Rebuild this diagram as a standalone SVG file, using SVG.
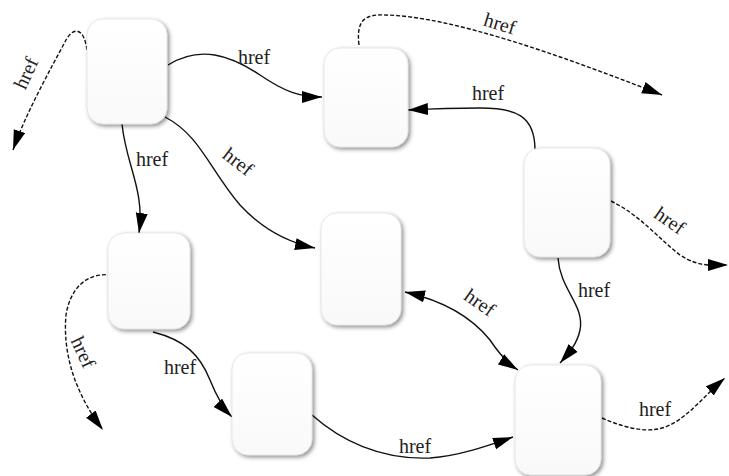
<svg xmlns="http://www.w3.org/2000/svg" width="729" height="476" viewBox="0 0 729 476">
<defs>
<filter id="sh" x="-20%" y="-20%" width="140%" height="140%">
<feDropShadow dx="2" dy="2" stdDeviation="2" flood-color="#000" flood-opacity="0.45"/>
</filter>
<linearGradient id="g" x1="0" y1="0" x2="0" y2="1">
<stop offset="0" stop-color="#ffffff"/>
<stop offset="1" stop-color="#f9f9f9"/>
</linearGradient>
<marker id="ah" markerUnits="userSpaceOnUse" markerWidth="22" markerHeight="14" refX="20" refY="6" orient="auto-start-reverse">
<path d="M0,0 L20,6 L0,12 z" fill="#000"/>
</marker>
</defs>
<style>
.n{fill:url(#g);stroke:#d8d8d8;stroke-width:0.6;filter:url(#sh)}
.e{fill:none;stroke:#111;stroke-width:1.4;marker-end:url(#ah)}
.d{stroke-dasharray:4,2}
.b{marker-start:url(#ah)}
text{font-family:"Liberation Serif","Times New Roman",serif;font-size:20px;fill:#222;text-anchor:middle}
</style>
<rect width="729" height="476" fill="#fff"/>
<g id="connectors">
<path class="e d" d="M87,50 C84,28 74,26 66,40 C50,70 25,115 13,150"/>
<path class="e" d="M168,65 C200,45 230,55 260,75 C285,92 300,97 322,97"/>
<path class="e" d="M122,124 C126,165 145,190 139,233"/>
<path class="e" d="M165,117 C200,135 210,170 240,205 C265,232 290,243 315,248"/>
<path class="e d" d="M359,45 C356,20 365,14 385,15 C450,16 560,55 662,95"/>
<path class="e" d="M535,150 C535,115 515,108 480,108 C450,108 428,109 408,110"/>
<path class="e d" d="M611,201 C640,215 660,240 680,255 C700,268 715,265 728,265"/>
<path class="e" d="M558,258 C560,290 585,305 580,330 C577,345 567,355 560,363"/>
<path class="e b" d="M405,292 C440,300 470,315 490,340 C500,355 510,365 518,370"/>
<path class="e d" d="M112,275 C85,272 70,290 66,315 C62,360 80,400 103,430"/>
<path class="e" d="M153,332 C185,340 200,355 210,380 C218,400 225,410 232,417"/>
<path class="e" d="M312,415 C340,440 380,460 430,458 C460,456 490,445 513,437"/>
<path class="e d" d="M602,418 C625,428 650,435 670,425 C690,415 705,395 725,378"/>
<text transform="translate(32,76) rotate(-65)">href</text>
<text x="254" y="64">href</text>
<text x="152" y="166">href</text>
<text transform="translate(234,167) rotate(38)">href</text>
<text transform="translate(498,30) rotate(17)">href</text>
<text x="488" y="100">href</text>
<text transform="translate(666,226) rotate(35)">href</text>
<text x="594" y="297">href</text>
<text transform="translate(476,308) rotate(35)">href</text>
<text transform="translate(77,355) rotate(65)">href</text>
<text x="180" y="374">href</text>
<text x="415" y="453">href</text>
<text x="655" y="416">href</text>
</g>
<g id="nA"><rect class="n" x="87" y="19" width="80" height="105" rx="16"/></g>
<g id="nB"><rect class="n" x="324" y="48" width="84" height="99" rx="16"/></g>
<g id="nC"><rect class="n" x="524" y="148" width="86" height="109" rx="16"/></g>
<g id="nD"><rect class="n" x="108" y="233" width="82" height="96" rx="16"/></g>
<g id="nE"><rect class="n" x="321" y="213" width="80" height="112" rx="16"/></g>
<g id="nF"><rect class="n" x="232" y="353" width="80" height="102" rx="16"/></g>
<g id="nG"><rect class="n" x="515" y="365" width="86" height="110" rx="16"/></g>
</svg>
